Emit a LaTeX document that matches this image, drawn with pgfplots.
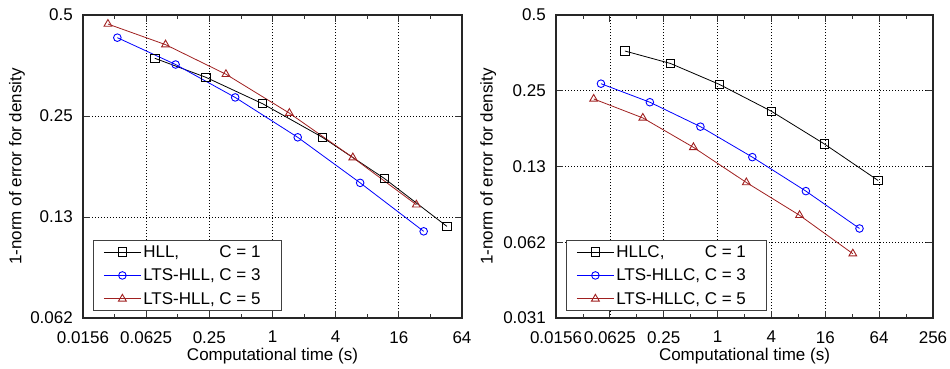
\documentclass[border=0pt]{standalone}
\usepackage{pgfplots}
\pgfplotsset{compat=1.18}
\usepackage{fontspec}
\setmainfont{Liberation Sans}
\definecolor{dred}{RGB}{160,32,32}
\definecolor{mblue}{RGB}{0,0,255}
\begin{document}
\begin{tikzpicture}[x=1pt,y=1pt]
\path[use as bounding box] (0,0) rectangle (950,368);
\begin{axis}[at={(83pt,50pt)},
    scale only axis, anchor=south west,
    width=379pt, height=303pt,
    xmode=log, ymode=log, log basis x=2, log basis y=2,
    axis line style={line width=1.2pt, black!85},
    every tick/.style={black!80, line width=0.8pt},
    major tick length=7pt,
    tick align=inside,
    grid=major,
    major grid style={black, line width=0.7pt, dash pattern=on 1pt off 2pt},
    xticklabel style={anchor=north, inner sep=0pt, yshift=-13pt, font=\fontsize{17}{20}\selectfont},
    yticklabel style={anchor=east, inner sep=0pt, xshift=-10pt, font=\fontsize{17}{20}\selectfont},
    xlabel style={at={(axis description cs:0.5,0)}, anchor=center, yshift=-38pt, font=\fontsize{17}{20}\selectfont},
    ylabel style={at={(axis description cs:-0.174,0.5)}, anchor=center, font=\fontsize{17}{20}\selectfont},
    xlabel={Computational time (s)},
    ylabel={1-norm of error for density},
    legend cell align=left,
    legend style={at={(0,0)}, anchor=south west, xshift=10pt, yshift=7pt,
      draw=black!75, line width=1pt, fill=white,
      font=\fontsize{17}{20}\selectfont,
      inner xsep=10pt, inner ysep=3pt,
      row sep=6pt},
    legend image code/.code={
      \draw[mark repeat=2,mark phase=2] plot coordinates {(0pt,0pt) (18.5pt,0pt) (37pt,0pt)};
    },
  xmin=0.015625, xmax=64, ymin=0.0625, ymax=0.5,
  xtick={0.015625,0.0625,0.25,1,4,16,64},
  xticklabels={0.0156,0.0625,0.25,1,4,16,64},
  extra x ticks={0.03125,0.125,0.5,2,8,32},
  extra x tick labels={},
  extra x tick style={grid=none, major tick length=4pt},
  ytick={0.0625,0.125,0.25,0.5},
  yticklabels={0.062,0.13,0.25,0.5},
]
\addplot[black, line width=0.8pt, mark=square, mark size=4.2pt, mark options={solid, line width=0.9pt}] coordinates {(0.0755,0.3716) (0.232,0.326) (0.805,0.272) (2.99,0.216) (11.6,0.163) (46.0,0.1172)};
\addlegendentry{HLL,\phantom{LTS-} C = 1\hspace*{9pt}}
\addplot[mblue, line width=0.8pt, mark=o, mark size=3.8pt, mark options={solid, line width=0.9pt}] coordinates {(0.0332,0.428) (0.1192,0.356) (0.441,0.284) (1.739,0.216) (6.85,0.158) (27.6,0.1133)};
\addlegendentry{LTS-HLL, C = 3\hspace*{9pt}}
\addplot[dred, line width=0.8pt, mark=triangle, mark size=4.5pt, mark options={solid, line width=0.9pt}] coordinates {(0.027,0.470) (0.0956,0.408) (0.360,0.333) (1.448,0.255) (5.83,0.188) (23.5,0.136)};
\addlegendentry{LTS-HLL, C = 5\hspace*{9pt}}
\end{axis}
\begin{axis}[at={(556pt,50pt)},
    scale only axis, anchor=south west,
    width=377pt, height=303pt,
    xmode=log, ymode=log, log basis x=2, log basis y=2,
    axis line style={line width=1.2pt, black!85},
    every tick/.style={black!80, line width=0.8pt},
    major tick length=7pt,
    tick align=inside,
    grid=major,
    major grid style={black, line width=0.7pt, dash pattern=on 1pt off 2pt},
    xticklabel style={anchor=north, inner sep=0pt, yshift=-13pt, font=\fontsize{17}{20}\selectfont},
    yticklabel style={anchor=east, inner sep=0pt, xshift=-10pt, font=\fontsize{17}{20}\selectfont},
    xlabel style={at={(axis description cs:0.5,0)}, anchor=center, yshift=-38pt, font=\fontsize{17}{20}\selectfont},
    ylabel style={at={(axis description cs:-0.180,0.5)}, anchor=center, font=\fontsize{17}{20}\selectfont},
    xlabel={Computational time (s)},
    ylabel={1-norm of error for density},
    legend cell align=left,
    legend style={at={(0,0)}, anchor=south west, xshift=10pt, yshift=7pt,
      draw=black!75, line width=1pt, fill=white,
      font=\fontsize{17}{20}\selectfont,
      inner xsep=10pt, inner ysep=3pt,
      row sep=6pt},
    legend image code/.code={
      \draw[mark repeat=2,mark phase=2] plot coordinates {(0pt,0pt) (18.5pt,0pt) (37pt,0pt)};
    },
  xmin=0.015625, xmax=256, ymin=0.03125, ymax=0.5,
  xtick={0.015625,0.0625,0.25,1,4,16,64,256},
  xticklabels={0.0156,0.0625,0.25,1,4,16,64,256},
  extra x ticks={0.03125,0.125,0.5,2,8,32,128},
  extra x tick labels={},
  extra x tick style={grid=none, major tick length=4pt},
  ytick={0.03125,0.0625,0.125,0.25,0.5},
  yticklabels={0.031,0.062,0.13,0.25,0.5},
]
\addplot[black, line width=0.8pt, mark=square, mark size=4.2pt, mark options={solid, line width=0.9pt}] coordinates {(0.092,0.3597) (0.297,0.321) (1.047,0.265) (3.99,0.2073) (15.55,0.1538) (62.3,0.110)};
\addlegendentry{HLLC,\phantom{LTS-} C = 1\hspace*{9pt}}
\addplot[mblue, line width=0.8pt, mark=o, mark size=3.8pt, mark options={solid, line width=0.9pt}] coordinates {(0.0497,0.2667) (0.175,0.2251) (0.643,0.1800) (2.446,0.1362) (9.71,0.0998) (38.6,0.0709)};
\addlegendentry{LTS-HLLC, C = 3\hspace*{9pt}}
\addplot[dred, line width=0.8pt, mark=triangle, mark size=4.5pt, mark options={solid, line width=0.9pt}] coordinates {(0.0412,0.2320) (0.146,0.195) (0.537,0.149) (2.097,0.1080) (8.25,0.0800) (32.5,0.0563)};
\addlegendentry{LTS-HLLC, C = 5\hspace*{9pt}}
\end{axis}
\end{tikzpicture}
\end{document}
